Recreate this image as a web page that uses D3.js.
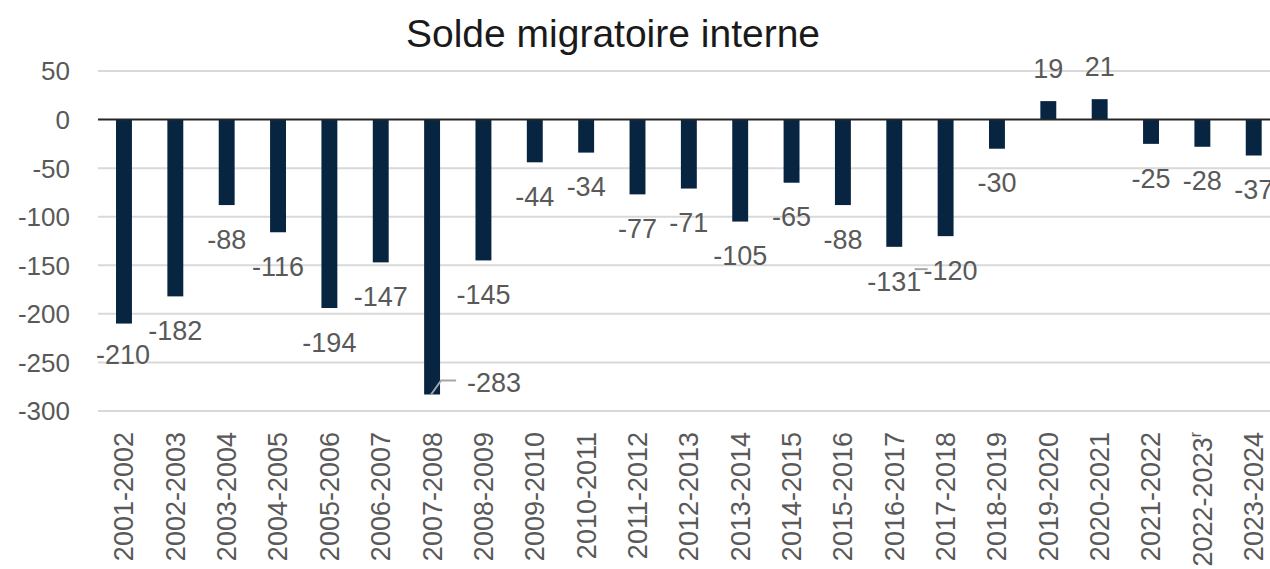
<!DOCTYPE html>
<html>
<head>
<meta charset="utf-8">
<script src="https://cdn.jsdelivr.net/npm/d3@7"></script>
<style>
  html, body { margin: 0; padding: 0; background: #fff; overflow: hidden; }
  text { font-family: "Liberation Sans", Arial, sans-serif; }
</style>
</head>
<body>
<div id="chart"></div>
<script>
// data
const periods = ['2001-2002', '2002-2003', '2003-2004', '2004-2005', '2005-2006', '2006-2007',
  '2007-2008', '2008-2009', '2009-2010', '2010-2011', '2011-2012', '2012-2013', '2013-2014',
  '2014-2015', '2015-2016', '2016-2017', '2017-2018', '2018-2019', '2019-2020', '2020-2021',
  '2021-2022', '2022-2023', '2023-2024'];
const solde = [-210, -182, -88, -116, -194, -147, -283, -145, -44, -34, -77, -71, -105,
  -65, -88, -131, -120, -30, 19, 21, -25, -28, -37];
const revised = ['2022-2023'];
const yTicks = [50, 0, -50, -100, -150, -200, -250, -300];

const width = 1270;
const height = 569;

// label nudges (layout only)
const labelNudge = {
  '2001-2002': { dx: -1, dy: -3 },
  '2007-2008': { dx: 62, dy: -46, leader: true },
  '2017-2018': { dx: 5, dy: 0, tick: true }
};

const svg = d3.select('#chart')
  .append('svg')
  .attr('width', width)
  .attr('height', height);

const xScale = d3.scaleBand()
  .domain(periods)
  .range([98.3, 1279.4])
  .paddingInner(0.69)
  .paddingOuter(0.345);

const yScale = d3.scaleLinear()
  .domain([-300, 50])
  .range([411, 71]);

// gridlines
svg.selectAll('.grid')
  .data(yTicks.filter(t => t !== 0))
  .enter()
  .append('line')
  .attr('class', 'grid')
  .attr('x1', 98)
  .attr('x2', 1290)
  .attr('y1', d => yScale(d))
  .attr('y2', d => yScale(d))
  .attr('stroke', '#d9d9d9')
  .attr('stroke-width', 2);

// y tick labels
svg.selectAll('.ytick')
  .data(yTicks)
  .enter()
  .append('text')
  .attr('class', 'ytick')
  .attr('x', 70)
  .attr('y', d => yScale(d))
  .attr('dy', '0.36em')
  .attr('text-anchor', 'end')
  .attr('fill', '#595959')
  .attr('font-size', 26)
  .text(d => d);

// bars
const cx = p => xScale(p) + xScale.bandwidth() / 2;

svg.selectAll('.bar')
  .data(periods)
  .enter()
  .append('rect')
  .attr('class', 'bar')
  .attr('x', d => xScale(d))
  .attr('width', xScale.bandwidth())
  .attr('y', (d, i) => yScale(Math.max(0, solde[i])))
  .attr('height', (d, i) => Math.abs(yScale(solde[i]) - yScale(0)))
  .attr('fill', '#072540');

// zero line
svg.append('line')
  .attr('x1', 98)
  .attr('x2', 1290)
  .attr('y1', yScale(0))
  .attr('y2', yScale(0))
  .attr('stroke', '#262626')
  .attr('stroke-width', 2);

// data labels
svg.selectAll('.label')
  .data(periods)
  .enter()
  .append('text')
  .attr('class', 'label')
  .attr('x', d => cx(d) + (labelNudge[d] ? labelNudge[d].dx : 0))
  .attr('y', (d, i) => {
    const v = solde[i];
    const base = v < 0 ? yScale(v) + 34 : yScale(v) - 33;
    return base + (labelNudge[d] ? labelNudge[d].dy : 0);
  })
  .attr('dy', '0.36em')
  .attr('text-anchor', 'middle')
  .attr('fill', '#595959')
  .attr('font-size', 27)
  .text((d, i) => solde[i]);

// leader lines
periods.forEach((p, i) => {
  const n = labelNudge[p];
  if (!n) return;
  const x0 = cx(p);
  const y0 = yScale(solde[i]);
  if (n.leader) {
    svg.append('polyline')
      .attr('points', `${x0 - 1},${y0} ${x0 + 9},${y0 - 14} ${x0 + 24},${y0 - 14}`)
      .attr('fill', 'none')
      .attr('stroke', '#a6a6a6')
      .attr('stroke-width', 2);
  }
  if (n.tick) {
    svg.append('line')
      .attr('x1', x0 - 31)
      .attr('x2', x0 - 18)
      .attr('y1', y0 + 33)
      .attr('y2', y0 + 33)
      .attr('stroke', '#a6a6a6')
      .attr('stroke-width', 2);
  }
});

// category labels
const xl = svg.selectAll('.xlabel')
  .data(periods)
  .enter()
  .append('text')
  .attr('class', 'xlabel')
  .attr('transform', d => `translate(${cx(d)}, 432) rotate(-90)`)
  .attr('dy', '0.35em')
  .attr('text-anchor', 'end')
  .attr('fill', '#595959')
  .attr('font-size', 27);

xl.append('tspan').text(d => d);
xl.filter(d => revised.includes(d))
  .append('tspan')
  .attr('font-size', 16)
  .attr('dy', '-0.7em')
  .text('r');

// title
svg.append('text')
  .attr('x', 613)
  .attr('y', 47)
  .attr('text-anchor', 'middle')
  .attr('fill', '#1a1a1a')
  .attr('font-size', 39)
  .text('Solde migratoire interne');
</script>
</body>
</html>
